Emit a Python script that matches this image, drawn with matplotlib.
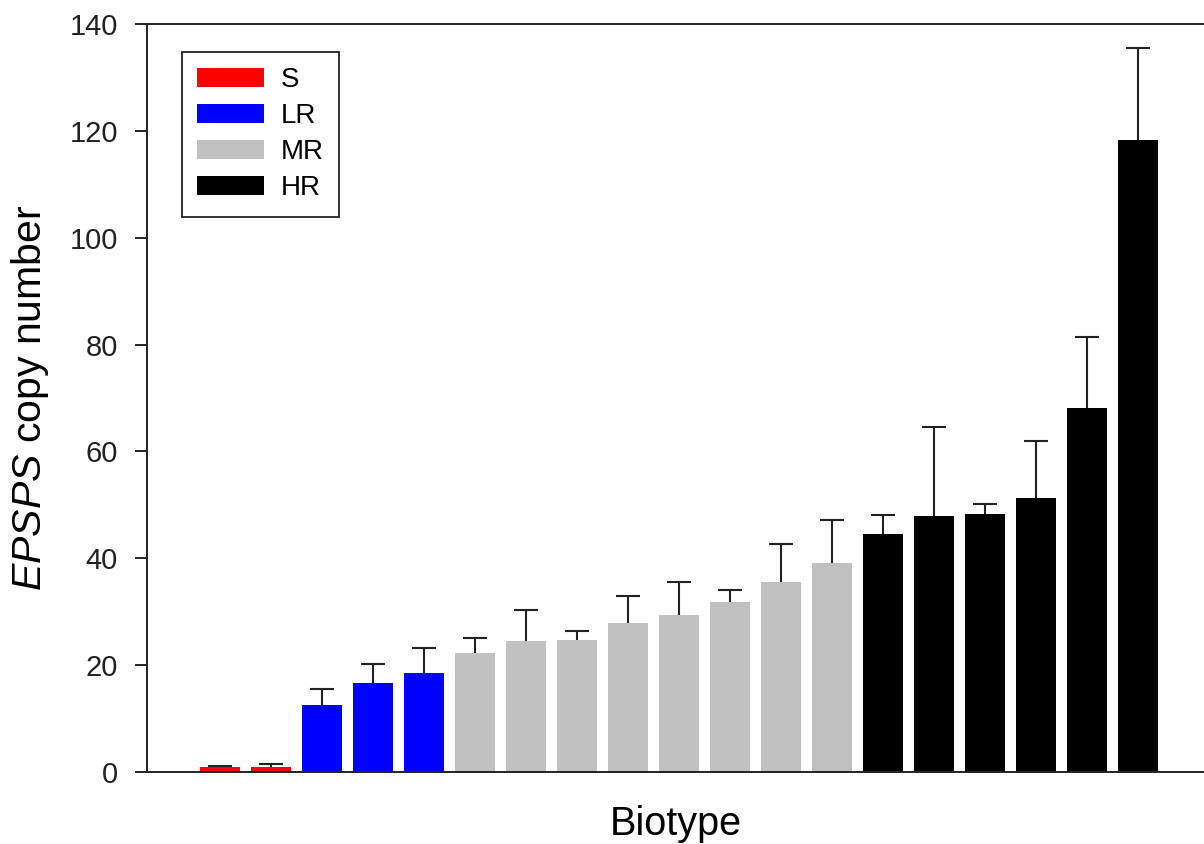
import numpy as np
import matplotlib
matplotlib.use('Agg')
import matplotlib.pyplot as plt
from matplotlib.patches import Patch

plt.rcParams['font.family'] = ['Liberation Sans', 'DejaVu Sans']
plt.rcParams['mathtext.fontset'] = 'custom'
plt.rcParams['mathtext.rm'] = 'Liberation Sans'
plt.rcParams['mathtext.it'] = 'Liberation Sans:italic'

# group of each biotype and its mean / upper SE cap
groups = ['S', 'S', 'LR', 'LR', 'LR',
          'MR', 'MR', 'MR', 'MR', 'MR', 'MR', 'MR', 'MR',
          'HR', 'HR', 'HR', 'HR', 'HR', 'HR']
means = [0.93, 0.93, 12.5, 16.7, 18.5,
         22.3, 24.4, 24.7, 27.9, 29.3, 31.7, 35.6, 39.1,
         44.6, 47.8, 48.2, 51.3, 68.1, 118.4]
caps = [1.12, 1.5, 15.5, 20.1, 23.2,
        25.0, 30.3, 26.4, 33.0, 35.5, 34.1, 42.6, 47.1,
        48.0, 64.5, 50.1, 62.0, 81.5, 135.5]
group_names = ['S', 'LR', 'MR', 'HR']
group_colors = {'S': '#ff0000', 'LR': '#0000ff', 'MR': '#c0c0c0', 'HR': '#000000'}


def main():
    fig = plt.figure(figsize=(12.04, 8.44), dpi=100)
    ax = fig.add_axes([0.1218, 0.0857, 0.8782, 0.8855])

    x = np.arange(len(means))
    means_a = np.array(means)
    err = np.array(caps) - means_a
    colors = [group_colors[g] for g in groups]

    ax.bar(x, means_a, width=0.79, color=colors, zorder=2)
    eb = ax.errorbar(x, means_a, yerr=[np.zeros_like(err), err], fmt='none',
                     ecolor='#222222', elinewidth=1.5, capsize=8.3, capthick=1.5,
                     zorder=1)
    # only the upper cap is shown
    caplines = eb[1]
    if len(caplines) == 2:
        caplines[0].set_visible(False)

    ax.set_xlim(-1.437, 19.29)
    ax.set_ylim(0, 140)
    ax.set_yticks(np.arange(0, 141, 20))
    ax.set_xticks([])
    ax.tick_params(axis='y', direction='out', length=8.6, width=1.4,
                   pad=12, labelsize=21, colors='#222222')
    for side in ['left', 'bottom', 'top']:
        ax.spines[side].set_linewidth(1.4)
        ax.spines[side].set_color('#222222')
    ax.spines['right'].set_visible(False)

    ax.set_xlabel('Biotype', fontsize=28.5, labelpad=24)
    ax.set_ylabel(r'$\mathit{EPSPS}$ copy number', fontsize=29.5, labelpad=13)

    handles = [Patch(facecolor=group_colors[g], edgecolor='none') for g in group_names]
    leg = ax.legend(handles, group_names, loc='upper left',
                    bbox_to_anchor=(0.0334, 0.963), borderaxespad=0,
                    fontsize=20, handlelength=2.4, handleheight=0.7,
                    handletextpad=0.62, borderpad=0.55, labelspacing=0.36,
                    fancybox=False, framealpha=1)
    leg.get_frame().set_edgecolor('#222222')
    leg.get_frame().set_linewidth(1.3)

    fig.savefig('out.png', dpi=100)


if __name__ == '__main__':
    main()
